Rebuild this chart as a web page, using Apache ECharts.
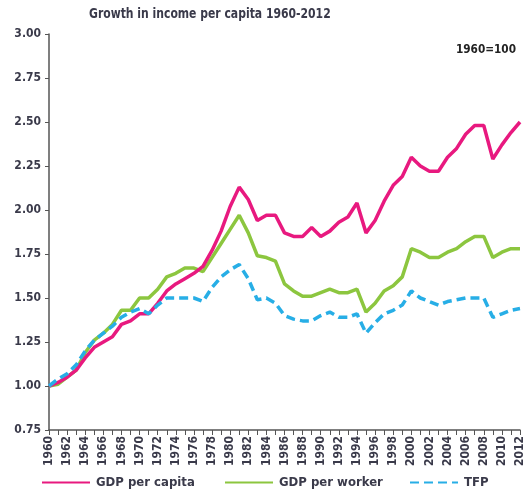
<!DOCTYPE html>
<html>
<head>
<meta charset="utf-8">
<script src="https://cdn.jsdelivr.net/npm/echarts@6/dist/echarts.min.js"></script>
<style>
  html, body { margin: 0; padding: 0; background: #fff; }
  #chart { width: 526px; height: 494px; }
</style>
</head>
<body>
<div id="chart"></div>
<script>
// Index values, 1960 = 1.00
const years = [];
for (let y = 1960; y <= 2012; y++) years.push(String(y));

const gdpPerCapita = [
  1.00, 1.02, 1.05, 1.09, 1.16, 1.22, 1.25, 1.28, 1.35, 1.37,
  1.41, 1.41, 1.47, 1.54, 1.58, 1.61, 1.64, 1.68, 1.77, 1.88,
  2.02, 2.13, 2.06, 1.94, 1.97, 1.97, 1.87, 1.85, 1.85, 1.90,
  1.85, 1.88, 1.93, 1.96, 2.04, 1.87, 1.94, 2.05, 2.14, 2.19,
  2.30, 2.25, 2.22, 2.22, 2.30, 2.35, 2.43, 2.48, 2.48, 2.29,
  2.37, 2.44, 2.50
];
const gdpPerWorker = [
  1.00, 1.01, 1.05, 1.09, 1.19, 1.26, 1.30, 1.35, 1.43, 1.43,
  1.50, 1.50, 1.55, 1.62, 1.64, 1.67, 1.67, 1.65, 1.73, 1.81,
  1.89, 1.97, 1.87, 1.74, 1.73, 1.71, 1.58, 1.54, 1.51, 1.51,
  1.53, 1.55, 1.53, 1.53, 1.55, 1.42, 1.47, 1.54, 1.57, 1.62,
  1.78, 1.76, 1.73, 1.73, 1.76, 1.78, 1.82, 1.85, 1.85, 1.73,
  1.76, 1.78, 1.78
];
const tfp = [
  1.00, 1.04, 1.07, 1.12, 1.20, 1.26, 1.30, 1.34, 1.39, 1.42,
  1.44, 1.41, 1.46, 1.50, 1.50, 1.50, 1.50, 1.48, 1.56, 1.62,
  1.66, 1.69, 1.61, 1.49, 1.50, 1.47, 1.40, 1.38, 1.37, 1.37,
  1.40, 1.42, 1.39, 1.39, 1.41, 1.30, 1.36, 1.41, 1.43, 1.46,
  1.54, 1.50, 1.48, 1.46, 1.48, 1.49, 1.50, 1.50, 1.50, 1.39,
  1.41, 1.43, 1.44
];
const yTicks = [0.75, 1.00, 1.25, 1.50, 1.75, 2.00, 2.25, 2.50, 2.75, 3.00];

const FONT = '"DejaVu Sans Condensed", "Liberation Sans Narrow", sans-serif';
const TEXT = '#3a3a4a';
const AXIS = '#555';
const PINK = '#e8197f';
const GREEN = '#8cc63f';
const BLUE = '#27aee6';

const chart = echarts.init(document.getElementById('chart'), null, { renderer: 'canvas' });

const legendBase = {
  bottom: 0,
  itemWidth: 48,
  itemHeight: 10,
  itemStyle: { opacity: 0 },
  textStyle: { fontFamily: FONT, fontWeight: 'bold', fontSize: 13, color: TEXT, padding: [0, 0, 0, 1] }
};

chart.setOption({
  animation: false,
  graphic: [
    {
      type: 'text', left: 89, top: 7, scaleX: 0.86,
      style: {
        text: 'Growth in income per capita 1960-2012',
        font: 'bold 14px ' + FONT, fill: TEXT
      }
    },
    {
      type: 'text', right: 10, top: 43, scaleX: 0.9,
      style: { text: '1960=100', font: 'bold 13px ' + FONT, fill: '#222' }
    }
  ],
  legend: [
    Object.assign({}, legendBase, { left: 36, data: ['GDP per capita'] }),
    Object.assign({}, legendBase, { left: 219, data: ['GDP per worker'] }),
    Object.assign({}, legendBase, { left: 404, data: ['TFP'] })
  ],
  grid: { left: 49, right: 6, top: 34, bottom: 64, containLabel: false },
  xAxis: {
    type: 'category',
    data: years,
    boundaryGap: false,
    axisLine: { lineStyle: { color: AXIS, width: 1.5 } },
    axisTick: { show: true, interval: 0, length: 5, lineStyle: { color: AXIS } },
    axisLabel: {
      interval: 1, rotate: 90, margin: 6,
      fontFamily: FONT, fontWeight: 'bold', fontSize: 12, color: TEXT
    },
    splitLine: { show: false }
  },
  yAxis: {
    type: 'value',
    min: yTicks[0], max: yTicks[yTicks.length - 1], interval: 0.25,
    axisLine: { show: true, lineStyle: { color: AXIS, width: 1.5 } },
    axisTick: { show: true, length: 4, lineStyle: { color: AXIS } },
    axisLabel: {
      margin: 8,
      fontFamily: FONT, fontWeight: 'bold', fontSize: 12, color: TEXT,
      formatter: v => v.toFixed(2)
    },
    splitLine: { show: false }
  },
  series: [
    {
      name: 'GDP per capita', type: 'line', data: gdpPerCapita,
      symbol: 'none', z: 3,
      lineStyle: { color: PINK, width: 3.5 }, itemStyle: { color: PINK }
    },
    {
      name: 'GDP per worker', type: 'line', data: gdpPerWorker,
      symbol: 'none', z: 2,
      lineStyle: { color: GREEN, width: 3.5 }, itemStyle: { color: GREEN }
    },
    {
      name: 'TFP', type: 'line', data: tfp,
      symbol: 'none', z: 4,
      lineStyle: { color: BLUE, width: 3.5, type: [9, 5] }, itemStyle: { color: BLUE }
    }
  ]
});
</script>
</body>
</html>
